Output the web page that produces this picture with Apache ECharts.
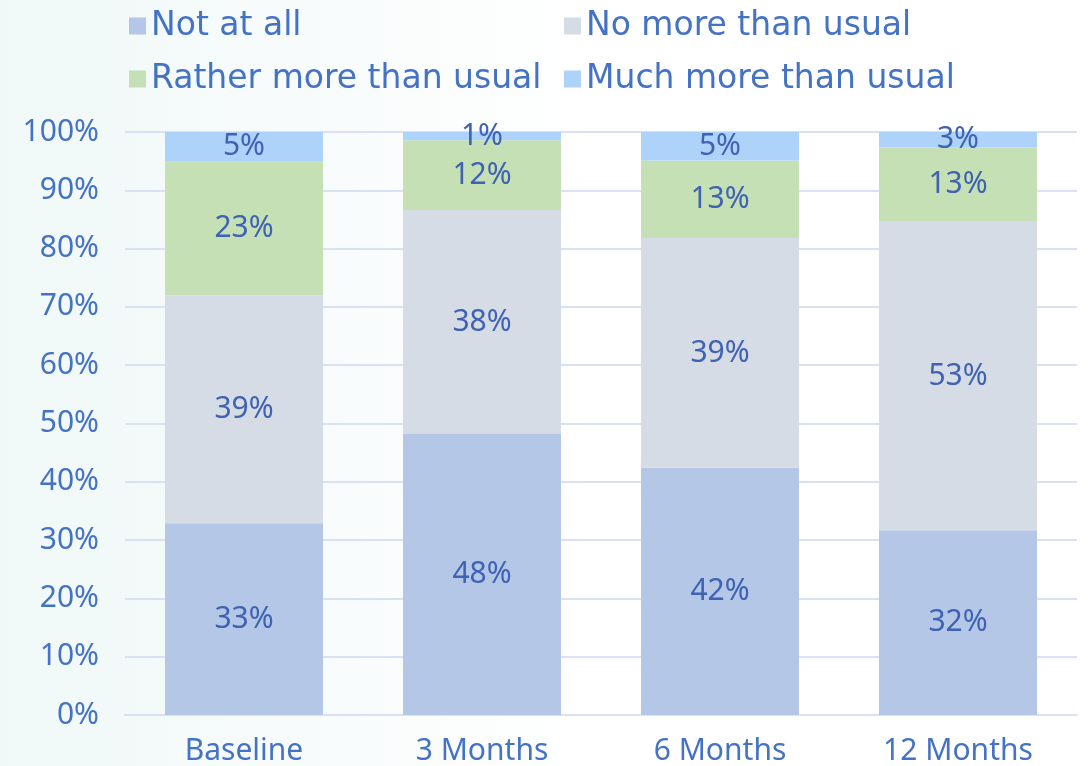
<!DOCTYPE html>
<html>
<head>
<meta charset="utf-8">
<script src="https://cdn.jsdelivr.net/npm/echarts@6/dist/echarts.min.js"></script>
<style>
  html, body { margin: 0; padding: 0; }
  #chart {
    width: 1088px; height: 766px;
    background: linear-gradient(90deg, #F0F8F8 0%, #F7FBFB 25%, #FFFFFF 55%);
  }
</style>
</head>
<body>
<div id="chart"></div>
<script>
// Time points of the survey
const categories = ['Baseline', '3 Months', '6 Months', '12 Months'];

// Share of respondents per answer (%), stacked to 100
const notAtAll   = [32.9, 48.2, 42.4, 31.7];
const noMore     = [39.1, 38.4, 39.4, 52.9];
const ratherMore = [22.9, 12.0, 13.3, 12.8];
const muchMore   = [5.1, 1.4, 4.9, 2.6];

const seriesNames = ['Not at all', 'No more than usual', 'Rather more than usual', 'Much more than usual'];
const seriesData = [notAtAll, noMore, ratherMore, muchMore];
const seriesColors = ['#B4C7E7', '#D6DCE5', '#C5E0B4', '#ADD3FB'];

const FONT = '"Noto Sans", sans-serif';
const LEGEND_FONT = '"DejaVu Sans", sans-serif';
const TEXT_BLUE = '#4472C4';
const LABEL_BLUE = '#3F62B2';
const GRID_LINE = '#D9E1F4';

const chart = echarts.init(document.getElementById('chart'), null, { renderer: 'canvas' });

function legendAt(name, left, top) {
  return {
    data: [name],
    left: left,
    top: top,
    itemWidth: 17,
    itemHeight: 17,
    itemGap: 0,
    itemTextGap: 8,
    icon: 'rect',
    padding: 0,
    selectedMode: false,
    textStyle: { color: TEXT_BLUE, fontSize: 33, fontFamily: LEGEND_FONT, lineHeight: 40 }
  };
}

const option = {
  backgroundColor: 'transparent',
  textStyle: { fontFamily: FONT },
  legend: [
    legendAt(seriesNames[0], 129, 6),
    legendAt(seriesNames[1], 564, 6),
    legendAt(seriesNames[2], 129, 59),
    legendAt(seriesNames[3], 564, 59)
  ],
  grid: { left: 125, right: 11, top: 132, bottom: 48, containLabel: false },
  xAxis: {
    type: 'category',
    data: categories,
    axisLine: { show: true, lineStyle: { color: GRID_LINE, width: 2 } },
    axisTick: { show: false },
    axisLabel: { color: TEXT_BLUE, fontSize: 30, fontFamily: FONT, margin: 21 }
  },
  yAxis: {
    type: 'value',
    min: 0,
    max: 100,
    interval: 10,
    axisLine: { show: false },
    axisTick: { show: false },
    axisLabel: { color: TEXT_BLUE, fontSize: 30, fontFamily: FONT, margin: 26, formatter: '{value}%' },
    splitLine: { show: true, lineStyle: { color: GRID_LINE, width: 2 } }
  },
  series: seriesNames.map((name, i) => ({
    name: name,
    type: 'bar',
    stack: 'total',
    data: seriesData[i],
    barWidth: 158,
    itemStyle: { color: seriesColors[i] },
    label: {
      show: true,
      position: 'inside',
      color: LABEL_BLUE,
      fontSize: 30,
      fontFamily: FONT,
      formatter: p => Math.round(p.value) + '%'
    }
  })),
  animation: false
};

chart.setOption(option);
</script>
</body>
</html>
